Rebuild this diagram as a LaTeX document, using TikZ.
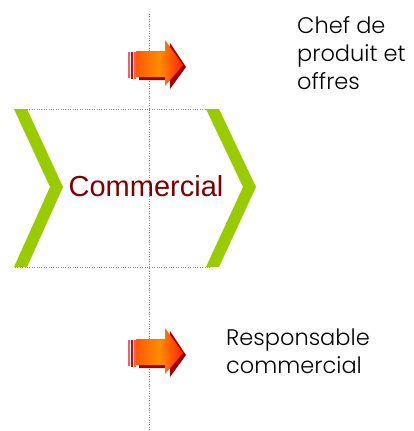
\documentclass[tikz,border=0pt]{standalone}
\usepackage{fontspec}
\setmainfont{Poppins}[UprightFont=* Light]
\newfontfamily\arialfont{Liberation Sans}
\definecolor{chevgreen}{HTML}{99CC00}
\definecolor{commred}{HTML}{800000}
\definecolor{dotgray}{HTML}{8C8C8C}
\definecolor{arrdark}{HTML}{A00000}
\definecolor{arrpink}{HTML}{FF5A5A}
\tikzset{
  dotline/.style={dotgray, line width=1pt, dash pattern=on 1pt off 1.4pt},
  chevron/.style={fill=chevgreen, draw=none},
  label/.style={font=\fontsize{22.5}{28}\selectfont, align=left, anchor=base west, inner sep=0pt, text=black},
  redarrow/.pic={
    % shadow
    \fill[arrdark] (9,-10) -- (40,-10) -- (40,-21) -- (56,3) -- (40,25) -- (40,16) -- (9,16) -- cycle;
    % stripes
    \fill[arrpink] (-2,-12) rectangle (0,14);
    \fill[red!85!black] (1,-12) rectangle (3,15);
    \fill[arrpink] (4,-12) rectangle (6,15);
    % body
    \shade[left color=orange!70!red, right color=red!75!orange, middle color=orange!90!yellow]
      (6,-13) -- (35,-13) -- (35,-24) -- (53,1) -- (35,22) -- (35,13) -- (6,13) -- cycle;
  }
}
\begin{document}
\begin{tikzpicture}[x=1pt,y=-1pt]
\useasboundingbox (0,0) rectangle (414,431);
% dotted guide lines
\coordinate (vtop) at (149,14);
\coordinate (vbot) at (149,430);
\coordinate (htl) at (15,109);
\coordinate (htr) at (210,109);
\coordinate (hbl) at (15,267);
\coordinate (hbr) at (210,267);
\draw[dotline] (vtop) -- (vbot);
\draw[dotline] (htl) -- (htr);
\draw[dotline] (hbl) -- (hbr);
% chevrons
\fill[chevron] (14,109) -- (27,109) -- (63,187) -- (27,267) -- (14,267) -- (50,187) -- cycle;
\fill[chevron] (206,109) -- (219,109) -- (256,187) -- (219,267) -- (206,267) -- (243,187) -- cycle;
% text
\node[font=\arialfont\fontsize{29}{30}\selectfont, text=commred, inner sep=0pt, anchor=base] (comm) at (146,196) {Commercial};
% arrows
\pic at (130,64) {redarrow};
\pic at (130,352) {redarrow};
\node[label] (chef) at (297,33) {Chef de};
\node[label] (chef2) at (297,61) {produit et};
\node[label] (chef3) at (297,89) {offres};
\node[label] (resp) at (226,345) {Responsable};
\node[label] (resp2) at (226,373) {commercial};
\end{tikzpicture}
\end{document}
